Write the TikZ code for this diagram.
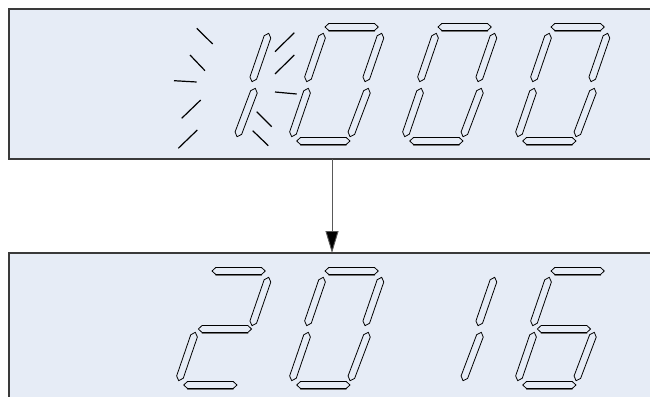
\documentclass[tikz,border=0pt]{standalone}
\usetikzlibrary{calc,arrows.meta}
\definecolor{panelbg}{HTML}{E6ECF6}
\definecolor{panelline}{HTML}{3A3A3A}
\tikzset{
  panel/.style={draw=panelline, line width=1.4pt, fill=panelbg, rectangle, anchor=north west, inner sep=0pt, outer sep=0pt},
  segment/.style={draw=black, line width=0.8pt, fill=panelbg, line join=round},
  segshade/.style={draw=black!55, line width=1pt, line cap=round},
  blink/.style={draw=black, line width=1.2pt},
  flow/.style={draw=black!65, line width=0.9pt, -{Triangle[length=22pt,width=13pt,fill=black]}}
}
\newcommand\sg[2]{\filldraw[segment] (#1) -- ($(#1)!3.8pt!(#2)!3.5pt!90:(#2)$) -- ($(#2)!3.8pt!(#1)!3.5pt!-90:(#1)$) -- (#2) -- ($(#2)!3.8pt!(#1)!3.5pt!90:(#1)$) -- ($(#1)!3.8pt!(#2)!3.5pt!-90:(#2)$) -- cycle;}
\newcommand\hsg[2]{\sg{#1}{#2}\draw[segshade, shift={(0,1)}] ($(#2)!3.8pt!(#1)!3.5pt!90:(#1)$) -- ($(#1)!3.8pt!(#2)!3.5pt!-90:(#2)$);}
\newcommand\segA{\hsg{35,18}{88.3,18}}
\newcommand\segB{\sg{91.7,24.3}{75,72.7}}
\newcommand\segC{\sg{78.3,79.3}{60,127.7}}
\newcommand\segD{\hsg{6.7,132}{60,132}}
\newcommand\segE{\sg{18.3,79.3}{1.7,127.7}}
\newcommand\segF{\sg{33.3,24.3}{16.7,72.7}}
\newcommand\segG{\hsg{21.3,76}{74.6,76}}
\newcommand\digZero{\segA\segB\segC\segD\segE\segF}
\newcommand\digOne{\segB\segC}
\newcommand\digTwo{\segA\segB\segG\segE\segD}
\newcommand\digSix{\segA\segF\segG\segE\segD\segC}
\begin{document}
\begin{tikzpicture}[x=1pt,y=-1pt]
\useasboundingbox (0,0) rectangle (650,396);
\clip (0,0) rectangle (650,396);
\node[panel, minimum width=660pt, minimum height=150pt] (top) at (9,9) {};
\node[panel, minimum width=660pt, minimum height=170pt] (bot) at (9,253) {};
% top display: blinking 1 then 000
\begin{scope}[shift={(177,9)}] \digOne \end{scope}
\begin{scope}[shift={(290,9)}] \digZero \end{scope}
\begin{scope}[shift={(403,9)}] \digZero \end{scope}
\begin{scope}[shift={(516,9)}] \digZero \end{scope}
% blink marks
\draw[blink] (196.7,28.3) -- (212.7,44);
\draw[blink] (190,55) -- (205,70.7);
\draw[blink] (174,80.7) -- (196.7,82);
\draw[blink] (181.7,118.3) -- (200.7,100);
\draw[blink] (178.3,148.3) -- (197.3,130);
\draw[blink] (275,51.7) -- (294.3,32.7);
\draw[blink] (275,74) -- (294.3,55);
\draw[blink] (275,92) -- (296.7,94);
\draw[blink] (256.7,111.7) -- (271.7,126.7);
\draw[blink] (252.7,130.7) -- (268.3,145.7);
% bottom display: 2016
\begin{scope}[shift={(177,253)}] \digTwo \end{scope}
\begin{scope}[shift={(290,253)}] \digZero \end{scope}
\begin{scope}[shift={(403,253)}] \digOne \end{scope}
\begin{scope}[shift={(516,253)}] \digSix \end{scope}
% arrow
\coordinate (ax) at (332,0);
\draw[flow] (top.south -| ax) -- (bot.north -| ax);
\end{tikzpicture}
\end{document}
